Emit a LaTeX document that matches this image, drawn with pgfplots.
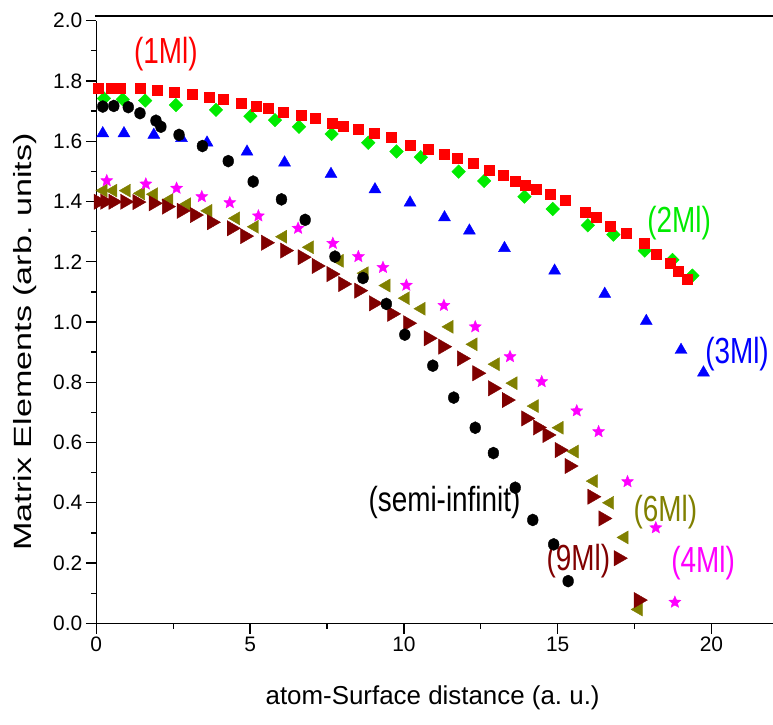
\documentclass[border=0pt]{standalone}
\usepackage{pgfplots}
\pgfplotsset{compat=1.18}
\usepackage{pgfplotstable}
\usepackage{graphicx}
\usepackage{fontspec}
\setmainfont{Liberation Sans}

\definecolor{cRed}{RGB}{255,0,0}
\definecolor{cGreen}{RGB}{0,235,0}
\definecolor{cBlue}{RGB}{0,0,255}
\definecolor{cMag}{RGB}{255,0,255}
\definecolor{cOlive}{RGB}{128,128,0}
\definecolor{cDark}{RGB}{128,0,0}

% filled five-pointed star
\pgfdeclareplotmark{fstar}{%
  \pgfpathmoveto{\pgfpointpolar{90}{\pgfplotmarksize}}%
  \pgfpathlineto{\pgfpointpolar{126}{0.45\pgfplotmarksize}}%
  \pgfpathlineto{\pgfpointpolar{162}{\pgfplotmarksize}}%
  \pgfpathlineto{\pgfpointpolar{198}{0.45\pgfplotmarksize}}%
  \pgfpathlineto{\pgfpointpolar{234}{\pgfplotmarksize}}%
  \pgfpathlineto{\pgfpointpolar{270}{0.45\pgfplotmarksize}}%
  \pgfpathlineto{\pgfpointpolar{306}{\pgfplotmarksize}}%
  \pgfpathlineto{\pgfpointpolar{342}{0.45\pgfplotmarksize}}%
  \pgfpathlineto{\pgfpointpolar{18}{\pgfplotmarksize}}%
  \pgfpathlineto{\pgfpointpolar{54}{0.45\pgfplotmarksize}}%
  \pgfpathclose
  \pgfusepathqfillstroke
}

% matrix elements vs. atom-surface distance
\pgfplotstableread{
x y
0.07 1.776
0.50 1.776
0.77 1.776
1.42 1.776
1.98 1.770
2.52 1.763
3.13 1.757
3.67 1.747
4.12 1.740
4.71 1.727
5.19 1.715
5.60 1.709
6.09 1.695
6.66 1.686
7.11 1.675
7.68 1.660
8.02 1.651
8.52 1.640
9.02 1.628
9.58 1.612
10.19 1.588
10.79 1.574
11.32 1.557
11.72 1.544
12.24 1.527
12.78 1.503
13.22 1.487
13.63 1.468
13.94 1.454
14.30 1.440
14.75 1.424
15.23 1.404
15.88 1.366
16.25 1.347
16.72 1.319
17.24 1.294
17.81 1.260
18.21 1.225
18.66 1.196
18.92 1.167
19.22 1.142
}\mlOne

\pgfplotstableread{
x y
0.25 1.742
0.86 1.739
1.59 1.735
2.59 1.720
3.89 1.704
5.01 1.683
5.81 1.670
6.59 1.648
7.65 1.624
8.84 1.595
9.76 1.566
10.55 1.547
11.78 1.499
12.61 1.468
13.92 1.416
14.84 1.375
15.98 1.321
16.81 1.290
17.83 1.237
18.73 1.206
19.38 1.154
}\mlTwo

\pgfplotstableread{
x y
0.21 1.626
0.90 1.626
1.87 1.621
2.77 1.610
3.60 1.595
4.90 1.565
6.12 1.529
7.63 1.491
9.06 1.440
10.20 1.396
11.32 1.347
12.13 1.303
13.27 1.245
14.90 1.170
16.53 1.093
17.88 1.003
19.01 0.907
19.74 0.832
}\mlThree

\pgfplotstableread{
x y
0.21 1.715
0.57 1.717
1.04 1.713
1.42 1.693
1.94 1.668
2.10 1.648
2.69 1.621
3.45 1.584
4.29 1.534
5.10 1.466
6.02 1.407
6.79 1.339
7.76 1.217
8.67 1.146
9.43 1.060
10.03 0.958
10.94 0.855
11.62 0.749
12.32 0.649
12.91 0.565
13.62 0.450
14.19 0.343
14.87 0.262
15.34 0.140
}\semiInf

\pgfplotstableread{
x y
0.34 1.469
1.61 1.458
2.61 1.444
3.43 1.416
4.34 1.396
5.27 1.352
6.56 1.311
7.69 1.261
8.52 1.217
9.32 1.181
10.08 1.122
11.30 1.055
12.32 0.984
13.45 0.885
14.48 0.802
15.62 0.705
16.33 0.636
17.27 0.470
18.19 0.317
18.81 0.070
}\mlFour

\pgfplotstableread{
x y
0.23 1.436
0.55 1.436
0.99 1.436
1.45 1.427
1.87 1.424
2.37 1.405
2.95 1.391
3.64 1.369
4.54 1.344
5.15 1.316
6.07 1.283
6.94 1.248
7.91 1.203
8.72 1.162
9.43 1.121
10.06 1.079
10.57 1.044
11.48 0.984
12.26 0.926
12.98 0.860
13.56 0.797
14.25 0.721
15.06 0.649
15.55 0.570
16.17 0.472
16.70 0.400
17.17 0.285
17.63 0.046
}\mlSix

\pgfplotstableread{
x y
0.07 1.399
0.28 1.399
0.55 1.399
0.93 1.399
1.33 1.398
1.86 1.394
2.29 1.383
2.77 1.369
3.20 1.355
3.75 1.331
4.40 1.311
4.83 1.285
5.51 1.263
6.13 1.237
6.70 1.215
7.16 1.186
7.64 1.159
8.02 1.126
8.54 1.104
9.02 1.062
9.61 1.027
10.13 0.996
10.80 0.946
11.27 0.918
11.88 0.879
12.38 0.830
12.89 0.780
13.34 0.741
13.97 0.680
14.35 0.650
14.66 0.625
15.06 0.575
15.38 0.522
16.12 0.420
16.48 0.348
16.98 0.216
17.63 0.077
}\mlNine

\begin{document}
\begin{tikzpicture}
\begin{axis}[
  scale only axis,
  width=676.7bp, height=602.6bp,
  xmin=0, xmax=22, ymin=0, ymax=2.0,
  axis lines=left,
  axis line style={-, line width=1.3bp},
  tick align=outside,
  xtick align=outside, ytick align=outside,
  major tick length=10.5bp, minor tick length=5.5bp,
  every tick/.style={black, line width=1.3bp},
  xtick={0,5,...,20}, minor x tick num=1,
  ytick={0,0.2,...,2.01}, minor y tick num=1,
  yticklabel style={/pgf/number format/.cd, fixed, fixed zerofill, precision=1},
  /pgf/number format/assume math mode=true,
  tick label style={font=\fontsize{21}{24}\selectfont},
  xlabel={atom-Surface distance (a.\ u.)},
  ylabel={\scalebox{1.37}[1]{Matrix Elements (arb.\ units)}},
  every axis x label/.style={at={(rel axis cs:0.497,0)}, yshift=-74.2bp, anchor=center, font=\fontsize{26}{28}\selectfont},
  every axis y label/.style={at={(rel axis cs:0,0.467)}, xshift=-71.3bp, anchor=center, rotate=90, font=\fontsize{25}{28}\selectfont},
  clip=false,
]
\addplot[only marks, mark=triangle*, mark size=6.9bp, color=cBlue] table {\mlThree};
\addplot[only marks, mark=square*, mark size=4.8bp, mark options={rotate=45}, color=cGreen] table {\mlTwo};
\addplot[only marks, mark=triangle*, mark size=7.5bp, mark options={rotate=90}, color=cOlive] table {\mlSix};
\addplot[only marks, mark=triangle*, mark size=8.8bp, mark options={rotate=-90}, color=cDark] table {\mlNine};
\addplot[only marks, mark=*, mark size=5.4bp, mark options={yscale=1.12}, color=black] table {\semiInf};
\addplot[only marks, mark=fstar, mark size=6.3bp, color=cMag] table {\mlFour};
\addplot[only marks, mark=square*, mark size=5bp, color=cRed] table {\mlOne};

\begin{scope}[every node/.style={font=\fontsize{28}{30}\selectfont}]
\node[text=cRed]   at (axis cs:2.26,1.89)  {\scalebox{1}[1.3]{(1Ml)}};
\node[text=cGreen] at (axis cs:18.95,1.329) {\scalebox{1}[1.3]{(2Ml)}};
\node[text=cBlue]  at (axis cs:20.83,0.894) {\scalebox{1}[1.3]{(3Ml)}};
\node[text=black]  at (axis cs:11.32,0.401) {\scalebox{1}[1.25]{(semi-infinit)}};
\node[text=cOlive] at (axis cs:18.50,0.368) {\scalebox{1}[1.3]{(6Ml)}};
\node[text=cDark]  at (axis cs:15.67,0.205) {\scalebox{1}[1.3]{(9Ml)}};
\node[text=cMag]   at (axis cs:19.73,0.200) {\scalebox{1}[1.3]{(4Ml)}};
\end{scope}
\end{axis}
% upper frame line
\draw[line width=1.3bp] (-1.5bp,607.3bp) -- (676.7bp,607.3bp);
\pgfresetboundingbox
\path (-96.3bp,-101.7bp) rectangle (676.7bp,623.3bp);
\end{tikzpicture}
\end{document}
